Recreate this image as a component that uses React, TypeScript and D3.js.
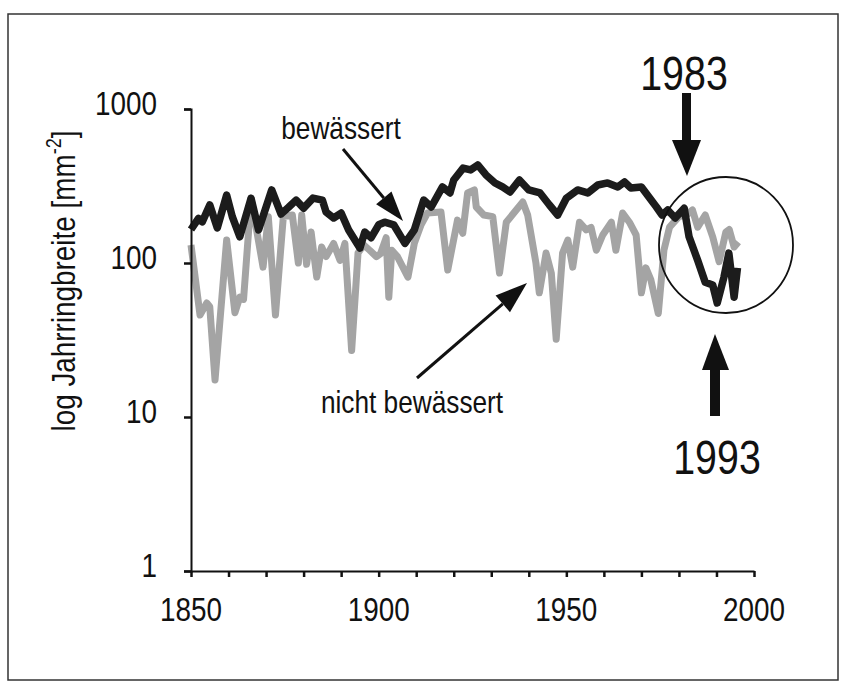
import React, { useRef, useEffect } from 'react';
import * as d3 from 'd3';

// [year, value] vertices
const bewaessert: [number, number][] = [
  [1850, 165], [1852, 195], [1853, 185], [1855, 238], [1857, 169], [1859.5, 276],
  [1861, 200], [1863, 148], [1866, 263], [1868, 164], [1871.5, 298], [1874, 208],
  [1876, 230], [1878, 256], [1880, 227], [1882.5, 264], [1885, 256], [1886, 214],
  [1888, 196], [1890, 211], [1892, 164], [1895, 125], [1896.3, 159], [1898, 146],
  [1900, 177], [1901.6, 184], [1904, 177], [1907, 134], [1909.5, 164], [1912, 256],
  [1914, 231], [1917, 312], [1919, 285], [1920, 346], [1922.5, 413], [1924.5, 402],
  [1926.4, 433], [1928.6, 373], [1931, 331], [1933, 312], [1935, 289], [1937.5, 346],
  [1940, 298], [1943, 285], [1945.5, 238], [1947.7, 205], [1950, 263], [1953, 298],
  [1955.7, 285], [1958.4, 321], [1961, 331], [1963.7, 312], [1965.5, 336], [1967.2, 307],
  [1970, 312], [1972, 268], [1974, 231], [1975.5, 205], [1977, 221], [1979, 196],
  [1981.4, 227], [1982.7, 148], [1985, 104], [1987, 75], [1989, 72], [1990.2, 55],
  [1992, 81], [1993.3, 116], [1994.7, 60], [1995.6, 93],
];

const nichtBewaessert: [number, number][] = [
  [1850, 131], [1852.4, 46], [1854.2, 55], [1855, 52], [1856.4, 17.4], [1859.5, 141],
  [1861.7, 47.6], [1863, 60], [1864, 58], [1866, 264], [1869.2, 94], [1870.6, 200],
  [1872.5, 46], [1874.6, 200], [1877, 205], [1878.6, 100], [1879.5, 205], [1880.8, 98],
  [1882, 159], [1883.5, 81], [1884.8, 127], [1886, 110], [1888, 134], [1889.7, 104],
  [1891, 134], [1892.8, 27], [1894.5, 116], [1896, 131], [1897.6, 121], [1899.4, 110],
  [1900.5, 115], [1902, 146], [1902.7, 60], [1903.5, 121], [1905, 110], [1907.8, 81],
  [1909.5, 134], [1911.3, 177], [1913, 211], [1916.6, 214], [1918.4, 90], [1921, 190],
  [1922.4, 156], [1923.7, 285], [1925.5, 298], [1926, 231], [1928, 205], [1930.4, 200],
  [1932.2, 86], [1934, 184], [1938.4, 249], [1939.7, 205], [1941.9, 100], [1942.8, 64],
  [1944.6, 116], [1946, 86], [1947.3, 32], [1949, 116], [1950.4, 141], [1951.7, 94],
  [1953.5, 184], [1955.3, 164], [1956.6, 170], [1958, 121], [1959.7, 152], [1962, 184],
  [1963.2, 121], [1965, 211], [1966.8, 184], [1968.6, 152], [1970, 64], [1971.2, 93],
  [1972.5, 78], [1974.5, 47], [1976, 121], [1977.5, 171], [1980, 200], [1982, 205],
  [1983.6, 221], [1985, 171], [1987, 205], [1989, 148], [1990.7, 102], [1992.5, 159],
  [1993.4, 165], [1994.7, 127], [1995.8, 137],
];

const yTicks = [1, 10, 100, 1000];
const xMinorTicks = d3.range(1850, 2001, 10);
const xLabels = [1850, 1900, 1950, 2000];

const FONT = '"Liberation Sans", Arial, sans-serif';
const NARROW = 0.82; // the original uses a narrow sans

const App: React.FC = () => {
  const svgRef = useRef<SVGSVGElement | null>(null);

  useEffect(() => {
    const W = 845;
    const H = 695;
    const svg = d3.select(svgRef.current).attr('width', W).attr('height', H);
    svg.selectAll('*').remove();

    svg.append('rect').attr('width', W).attr('height', H).attr('fill', '#fff');

    // frame
    svg
      .append('rect')
      .attr('x', 8)
      .attr('y', 14)
      .attr('width', 830)
      .attr('height', 666)
      .attr('fill', 'none')
      .attr('stroke', '#333')
      .attr('stroke-width', 1.5);

    const x = d3.scaleLinear().domain([1850, 2000]).range([191, 754]);
    const y = d3.scaleLog().domain([1, 1000]).range([571, 109]);

    const line = d3
      .line<[number, number]>()
      .x((d) => x(d[0]))
      .y((d) => y(d[1]));

    svg
      .append('path')
      .datum(nichtBewaessert)
      .attr('d', line)
      .attr('fill', 'none')
      .attr('stroke', '#a4a4a4')
      .attr('stroke-width', 7)
      .attr('stroke-linejoin', 'round');

    svg
      .append('path')
      .datum(bewaessert)
      .attr('d', line)
      .attr('fill', 'none')
      .attr('stroke', '#1c1c1c')
      .attr('stroke-width', 7.5)
      .attr('stroke-linejoin', 'round');

    // y axis
    const yAxis = svg
      .append('g')
      .attr('transform', `translate(${x(1850)},0)`)
      .call(d3.axisLeft(y).tickValues(yTicks).tickSize(7).tickFormat(() => ''));
    yAxis.select('.domain').attr('stroke', '#111').attr('stroke-width', 2);
    yAxis.selectAll('.tick line').attr('stroke', '#111').attr('stroke-width', 2.5);

    const label = (tx: number, ty: number, s: string, size: number, anchor = 'middle') =>
      svg
        .append('text')
        .attr('transform', `translate(${tx},${ty}) scale(${NARROW},1)`)
        .attr('text-anchor', anchor)
        .attr('font-family', FONT)
        .attr('font-size', size)
        .attr('fill', '#111')
        .text(s);

    yTicks.forEach((d) => label(157, y(d) + 6, String(d), 34, 'end'));

    // x axis
    const xAxis = svg
      .append('g')
      .attr('transform', `translate(0,${y(1)})`)
      .call(d3.axisBottom(x).tickValues(xMinorTicks).tickSize(6).tickSizeOuter(0).tickFormat(() => ''));
    xAxis.select('.domain').attr('stroke', '#111').attr('stroke-width', 2);
    xAxis.selectAll('.tick line').attr('stroke', '#111').attr('stroke-width', 2.5);

    xLabels.forEach((d) => label(x(d), 621, String(d), 34));

    // y axis title
    const title = svg
      .append('text')
      .attr('transform', `translate(75,281) rotate(-90) scale(${NARROW},1)`)
      .attr('text-anchor', 'middle')
      .attr('font-family', FONT)
      .attr('font-size', 34)
      .attr('fill', '#111');
    title.append('tspan').text('log Jahrringbreite [mm');
    title.append('tspan').attr('font-size', 22).attr('dy', -14).text('-2');
    title.append('tspan').attr('dy', 14).text(']');

    label(341, 139, 'bewässert', 32);
    label(412, 413, 'nicht bewässert', 32);
    label(684, 90, '1983', 48);
    label(717, 474, '1993', 48);

    // thin arrows
    const arrow = (x1: number, y1: number, x2: number, y2: number, hl: number, hw: number) => {
      const ang = Math.atan2(y2 - y1, x2 - x1);
      const bx = x2 - hl * Math.cos(ang);
      const by = y2 - hl * Math.sin(ang);
      svg
        .append('line')
        .attr('x1', x1)
        .attr('y1', y1)
        .attr('x2', bx)
        .attr('y2', by)
        .attr('stroke', '#111')
        .attr('stroke-width', 3);
      const px = -Math.sin(ang) * hw;
      const py = Math.cos(ang) * hw;
      svg
        .append('polygon')
        .attr('points', `${x2},${y2} ${bx + px},${by + py} ${bx - px},${by - py}`)
        .attr('fill', '#111');
    };
    arrow(343, 149, 403, 221, 30, 10);
    arrow(417, 378, 527, 283, 32, 11);

    // thick arrows
    svg.append('rect').attr('x', 682).attr('y', 93).attr('width', 9).attr('height', 50).attr('fill', '#111');
    svg.append('polygon').attr('points', '672,140 701,140 687,176').attr('fill', '#111');
    svg.append('rect').attr('x', 710).attr('y', 366).attr('width', 10).attr('height', 50).attr('fill', '#111');
    svg.append('polygon').attr('points', '702,370 729,370 715,334').attr('fill', '#111');

    // circle
    svg
      .append('ellipse')
      .attr('cx', 726)
      .attr('cy', 245)
      .attr('rx', 67)
      .attr('ry', 68)
      .attr('fill', 'none')
      .attr('stroke', '#111')
      .attr('stroke-width', 1.8);
  }, []);

  return (
    <svg
      ref={svgRef}
      style={{ position: 'absolute', left: 0, top: 0, display: 'block' }}
    ></svg>
  );
};

export default App;
